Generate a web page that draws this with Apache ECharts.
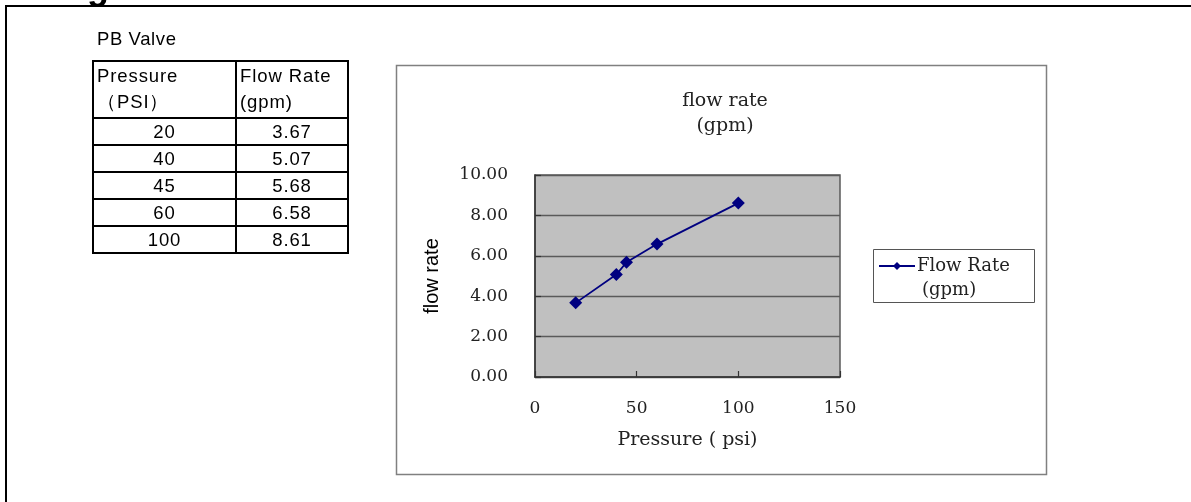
<!DOCTYPE html>
<html>
<head>
<meta charset="utf-8">
<script src="https://cdn.jsdelivr.net/npm/echarts@6/dist/echarts.min.js"></script>
<style>
  html, body { margin: 0; padding: 0; background: #fff; }
  #chart { position: absolute; left: 0; top: 0; width: 1191px; height: 502px; }
  .frameTop { position: absolute; left: 5px; top: 5px; width: 1186px; height: 2px; background: #000; }
  .frameLeft { position: absolute; left: 5px; top: 5px; width: 2px; height: 497px; background: #000; }
  .cut { position: absolute; left: 87px; top: -34px; font: bold 36px "Liberation Sans", Arial, sans-serif; color: #000; }
  .caption { position: absolute; left: 97px; top: 28px; font: 18.5px "Liberation Sans", Arial, sans-serif; letter-spacing: 0.6px; color: #000; }
  table { position: absolute; left: 92px; top: 60px; border-collapse: collapse; border: 2px solid #000;
          font: 18.5px "Liberation Sans", Arial, sans-serif; letter-spacing: 0.9px; color: #000; }
  td { border: 2px solid #000; padding: 0 3px; }
  tr.head td { height: 54px; line-height: 26px; vertical-align: top; text-align: left; padding-top: 1px; }
  tr.row td { height: 25px; line-height: 25px; text-align: center; }
  td.c1 { width: 135px; }
  td.c2 { width: 104px; }
</style>
</head>
<body>
<div id="chart"></div>
<div class="frameTop"></div>
<div class="frameLeft"></div>
<div class="cut">g</div>
<div class="caption" id="caption"></div>
<table id="tbl"></table>
<script>
// ---- data ----
const tableCaption = 'PB Valve';
const headers = ['Pressure<br>\uFF08PSI\uFF09', 'Flow Rate<br>(gpm)'];
const pressure = [20, 40, 45, 60, 100];
const flowRate = [3.67, 5.07, 5.68, 6.58, 8.61];
const seriesName = 'Flow Rate (gpm)';
const chartTitle = 'flow rate\n(gpm)';
const xAxisName = 'Pressure ( psi)';
const yAxisName = 'flow rate';

// ---- table ----
document.getElementById('caption').textContent = tableCaption;
const tbl = document.getElementById('tbl');
let html = '<tr class="head"><td class="c1">' + headers[0] + '</td><td class="c2">' + headers[1] + '</td></tr>';
for (let i = 0; i < pressure.length; i++) {
  html += '<tr class="row"><td class="c1">' + pressure[i] + '</td><td class="c2">' + flowRate[i].toFixed(2) + '</td></tr>';
}
tbl.innerHTML = html;

// ---- chart ----
const serif = '"DejaVu Serif", "Liberation Serif", serif';
const txt = '#222';
const nameParts = seriesName.split(' (');
const chart = echarts.init(document.getElementById('chart'), null, { renderer: 'canvas' });
chart.setOption({
  animation: false,
  backgroundColor: 'transparent',
  title: {
    text: chartTitle,
    left: 720,
    top: 84,
    textAlign: 'center',
    textStyle: { fontFamily: serif, fontSize: 19, fontWeight: 'normal', color: txt, lineHeight: 25 }
  },
  graphic: [
    { type: 'rect', shape: { x: 396.5, y: 65.5, width: 650, height: 409 },
      style: { fill: 'transparent', stroke: '#808080', lineWidth: 1.5 }, z: -1 },
    { type: 'rect', shape: { x: 873.5, y: 249.5, width: 161, height: 53 },
      style: { fill: '#fff', stroke: '#555', lineWidth: 1 }, z: 0 },
    { type: 'text', left: 922, top: 281,
      style: { text: '(' + nameParts[1], font: '18px ' + serif, fill: txt }, z: 2 }
  ],
  legend: {
    left: 878,
    top: 257,
    itemWidth: 36,
    itemHeight: 10,
    itemGap: 4,
    padding: 0,
    formatter: function (n) { return n.split(' (')[0]; },
    textStyle: { fontFamily: serif, fontSize: 18, color: txt, padding: [0, 0, 0, -3] },
    data: [seriesName],
    z: 3
  },
  grid: {
    left: 535, top: 175, width: 305, height: 202,
    show: true, backgroundColor: '#c0c0c0', borderColor: '#5a5a5a', borderWidth: 1.5
  },
  xAxis: {
    type: 'value', min: 0, max: 150, interval: 50,
    name: xAxisName, nameLocation: 'middle', nameGap: 54,
    nameTextStyle: { fontFamily: serif, fontSize: 19, color: txt },
    axisLine: { show: true, onZero: false, lineStyle: { color: '#333', width: 1.5 } },
    axisTick: { show: true, inside: true, length: 6, lineStyle: { color: '#333', width: 1.2 } },
    axisLabel: { fontFamily: serif, fontSize: 17, color: txt, margin: 23 },
    splitLine: { show: false }
  },
  yAxis: {
    type: 'value', min: 0, max: 10, interval: 2,
    name: yAxisName, nameLocation: 'middle', nameGap: 93, nameRotate: 90,
    nameTextStyle: { fontFamily: '"Liberation Sans", Arial, sans-serif', fontSize: 20, color: '#000' },
    axisLine: { show: true, lineStyle: { color: '#333', width: 1.5 } },
    axisTick: { show: true, inside: true, length: 6, lineStyle: { color: '#333', width: 1.2 } },
    axisLabel: { fontFamily: serif, fontSize: 17, color: txt, margin: 27,
                 formatter: function (v) { return v.toFixed(2); } },
    splitLine: { show: true, lineStyle: { color: '#5a5a5a', width: 1.3 } }
  },
  series: [{
    name: seriesName,
    type: 'line',
    data: pressure.map(function (p, i) { return [p, flowRate[i]]; }),
    symbol: 'diamond',
    symbolSize: 13,
    lineStyle: { color: '#000080', width: 1.8 },
    itemStyle: { color: '#000080' }
  }]
});
</script>
</body>
</html>
